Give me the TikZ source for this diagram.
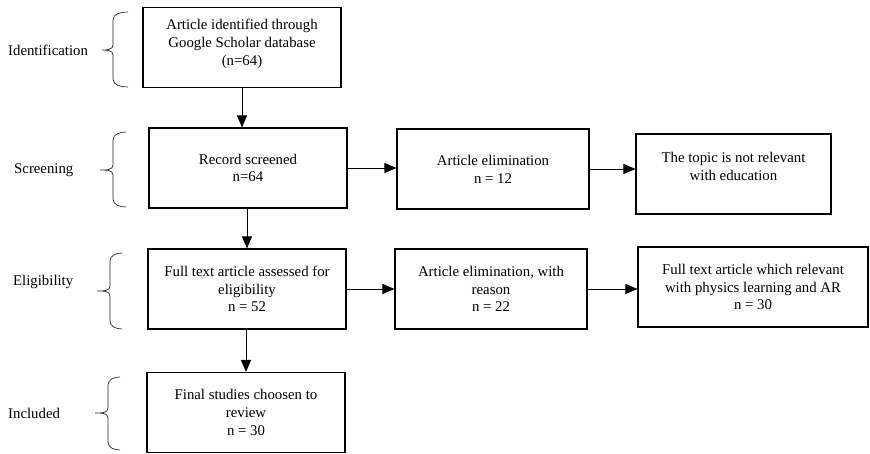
\documentclass[tikz,border=0pt]{standalone}
\usepackage{fontspec}
\setmainfont{Liberation Serif}
\usetikzlibrary{arrows.meta}

\begin{document}
\begin{tikzpicture}[x=1pt, y=-1pt,
    font=\fontsize{14.8}{17.8}\selectfont,
    stagebox/.style={draw, line width=1.1pt, align=center, inner sep=0pt, minimum height=80pt},
    flow/.style={line width=0.8pt, -{Triangle[length=12pt,width=10pt]}},
    brace/.style={line width=0.7pt, black!85},
    phase/.style={anchor=west, inner sep=0pt}]
    \useasboundingbox (0,0) rectangle (870,454);
    % phase labels
    \node[phase] (lident) at (8,50) {Identification} ;
    \node[phase] (lscreen) at (14,170) {Screening} ;
    \node[phase] (lelig) at (13,282) {Eligibility} ;
    \node[phase] (lincl) at (8,413) {Included} ;
    % braces
    \draw[brace] (128,12) to[out=180,in=90] (113,20) -- (113,45) to[out=-90,in=0] (102,50)
        to[out=0,in=90] (113,55) -- (113,79) to[out=-90,in=180] (128,87) ;
    \draw[brace] (126,132) to[out=180,in=90] (113,140) -- (113,165) to[out=-90,in=0] (100,170)
        to[out=0,in=90] (113,175) -- (113,199) to[out=-90,in=180] (126,207) ;
    \draw[brace] (122,253) to[out=180,in=90] (110,261) -- (110,286) to[out=-90,in=0] (97,291)
        to[out=0,in=90] (110,296) -- (110,321) to[out=-90,in=180] (122,329) ;
    \draw[brace] (120,377) to[out=180,in=90] (108,385) -- (108,408) to[out=-90,in=0] (95,413)
        to[out=0,in=90] (108,418) -- (108,442) to[out=-90,in=180] (120,450) ;
    % boxes
    \node[stagebox, minimum width=198pt, text depth=11pt] (ident) at (242,47.5) {Article identified through\\Google Scholar database\\(n=64)} ;
    \node[stagebox, minimum width=198pt] (screen) at (248,168) {Record screened\\n=64} ;
    \node[stagebox, minimum width=192pt] (elim1) at (493,169) {Article elimination\\n = 12} ;
    \node[stagebox, minimum width=195pt, text depth=16pt] (topic) at (733.5,174) {The topic is not relevant\\with education} ;
    \node[stagebox, minimum width=198pt] (elig) at (247,289) {Full text article assessed for\\eligibility\\n = 52} ;
    \node[stagebox, minimum width=192pt] (elim2) at (491,289) {Article elimination, with\\reason\\n = 22} ;
    \node[stagebox, minimum width=230pt] (fulltext) at (753,287) {Full text article which relevant\\with physics learning and AR\\n = 30} ;
    \node[stagebox, minimum width=198pt] (incl) at (246,412.5) {Final studies choosen to\\review\\n = 30} ;
    % arrows
    \draw[flow] (ident.south) -- (ident.south |- screen.north) ;
    \draw[flow] (elig.north |- screen.south) -- (elig.north) ;
    \draw[flow] (incl.north |- elig.south) -- (incl.north) ;
    \draw[flow] (screen.east) -- (screen.east -| elim1.west) ;
    \draw[flow] (elim1.east) -- (elim1.east -| topic.west) ;
    \draw[flow] (elig.east) -- (elig.east -| elim2.west) ;
    \draw[flow] (elim2.east) -- (elim2.east -| fulltext.west) ;
\end{tikzpicture}
\end{document}
